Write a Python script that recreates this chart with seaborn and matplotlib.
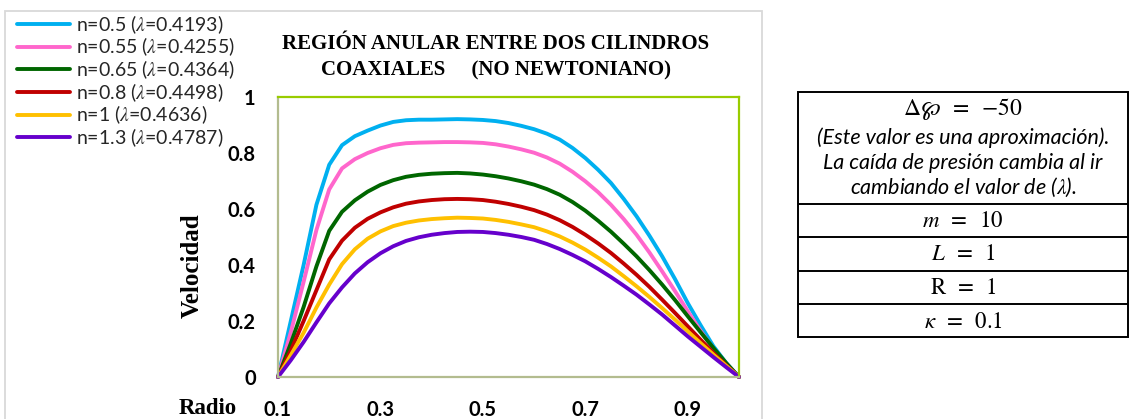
import matplotlib
matplotlib.use("Agg")
import matplotlib.pyplot as plt
import pandas as pd
import seaborn as sns
from matplotlib.patches import Rectangle
from matplotlib.lines import Line2D

# ---------------- data ----------------
radio = [0.100, 0.125, 0.150, 0.175, 0.200, 0.225, 0.250, 0.275, 0.300, 0.325,
         0.350, 0.375, 0.400, 0.425, 0.450, 0.475, 0.500, 0.525, 0.550, 0.575,
         0.600, 0.625, 0.650, 0.675, 0.700, 0.725, 0.750, 0.775, 0.800, 0.825,
         0.850, 0.875, 0.900, 0.925, 0.950, 0.975, 1.000]
v_n050 = [0, 0.20, 0.40, 0.615, 0.758, 0.828, 0.860, 0.880, 0.898, 0.911,
          0.917, 0.919, 0.919, 0.920, 0.921, 0.920, 0.918, 0.914, 0.907, 0.897,
          0.885, 0.869, 0.848, 0.818, 0.782, 0.740, 0.693, 0.636, 0.574, 0.505,
          0.431, 0.350, 0.264, 0.185, 0.110, 0.050, 0]
v_n055 = [0, 0.16, 0.34, 0.525, 0.670, 0.745, 0.778, 0.800, 0.817, 0.829,
          0.835, 0.837, 0.838, 0.839, 0.839, 0.838, 0.836, 0.831, 0.823, 0.813,
          0.801, 0.784, 0.762, 0.733, 0.699, 0.660, 0.615, 0.564, 0.508, 0.445,
          0.377, 0.307, 0.235, 0.165, 0.098, 0.045, 0]
v_n065 = [0, 0.12, 0.25, 0.395, 0.522, 0.590, 0.631, 0.662, 0.686, 0.703,
          0.715, 0.722, 0.726, 0.728, 0.729, 0.727, 0.723, 0.717, 0.709, 0.699,
          0.687, 0.671, 0.651, 0.625, 0.594, 0.558, 0.519, 0.476, 0.431, 0.382,
          0.330, 0.275, 0.217, 0.160, 0.104, 0.050, 0]
v_n080 = [0, 0.095, 0.20, 0.310, 0.420, 0.487, 0.533, 0.565, 0.588, 0.606,
          0.619, 0.627, 0.632, 0.635, 0.636, 0.635, 0.632, 0.626, 0.618, 0.608,
          0.596, 0.580, 0.560, 0.536, 0.508, 0.477, 0.443, 0.405, 0.365, 0.322,
          0.276, 0.229, 0.181, 0.133, 0.086, 0.042, 0]
v_n100 = [0, 0.078, 0.158, 0.248, 0.330, 0.403, 0.456, 0.494, 0.520, 0.539,
          0.551, 0.559, 0.564, 0.567, 0.569, 0.568, 0.566, 0.561, 0.554, 0.545,
          0.535, 0.520, 0.502, 0.480, 0.455, 0.426, 0.395, 0.360, 0.324, 0.286,
          0.246, 0.205, 0.163, 0.121, 0.080, 0.040, 0]
v_n130 = [0, 0.060, 0.125, 0.195, 0.263, 0.320, 0.370, 0.410, 0.442, 0.467,
          0.486, 0.499, 0.508, 0.514, 0.518, 0.519, 0.518, 0.514, 0.508, 0.500,
          0.490, 0.475, 0.457, 0.436, 0.413, 0.386, 0.357, 0.326, 0.294, 0.259,
          0.223, 0.184, 0.145, 0.108, 0.071, 0.035, 0]

series_labels = [r"n=0.5 ($\lambda$=0.4193)", r"n=0.55 ($\lambda$=0.4255)",
                 r"n=0.65 ($\lambda$=0.4364)", r"n=0.8 ($\lambda$=0.4498)",
                 r"n=1 ($\lambda$=0.4636)", r"n=1.3 ($\lambda$=0.4787)"]
series_values = [v_n050, v_n055, v_n065, v_n080, v_n100, v_n130]
colors = ["#00B0F0", "#FF66CC", "#006600", "#C00000", "#FFC000", "#6600CC"]

x_ticks = [0.1, 0.3, 0.5, 0.7, 0.9]
x_tick_labels = ["0.1", "0.3", "0.5", "0.7", "0.9"]
y_ticks = [0, 0.2, 0.4, 0.6, 0.8, 1.0]
y_tick_labels = ["0", "0.2", "0.4", "0.6", "0.8", "1"]

title = "REGIÓN ANULAR ENTRE DOS CILINDROS\nCOAXIALES     (NO NEWTONIANO)"
table_head = r"$\Delta\wp\;\;=\;\;{-}50$"
table_note = ["(Este valor es una aproximación).",
              "La caída de presión cambia al ir",
              r"cambiando el valor de ($\lambda$)."]
table_rows = [r"$m\;\;=\;\;10$", r"$L\;\;=\;\;1$",
              r"$\mathrm{R}\;\;=\;\;1$", r"$\kappa\;\;=\;\;0.1$"]

rows = []
for lab, vals in zip(series_labels, series_values):
    for r, v in zip(radio, vals):
        rows.append({"Radio": r, "Velocidad": v, "Serie": lab})
df = pd.DataFrame(rows)

# ---------------- style ----------------
sns.set_theme(style="white")
plt.rcParams["font.family"] = ["Lato", "DejaVu Sans"]
plt.rcParams["mathtext.fontset"] = "stix"

W, H = 1130, 419
fig = plt.figure(figsize=(W / 100, H / 100), dpi=100)
fig.patch.set_facecolor("white")

# chart area outline
fig.add_artist(Rectangle((5 / W, -0.05), (762 - 5) / W, 1 - 11 / H + 0.05,
                         transform=fig.transFigure, fill=False,
                         edgecolor="#D9D9D9", lw=1.3))

ax = fig.add_axes([278 / W, (H - 377) / H, 461 / W, 280 / H])
sns.lineplot(data=df, x="Radio", y="Velocidad", hue="Serie",
             hue_order=series_labels, palette=colors, linewidth=2.8,
             estimator=None, sort=False, ax=ax, legend=False)
for ln in ax.get_lines():
    ln.set_solid_capstyle("round")
    ln.set_solid_joinstyle("round")
    ln.set_clip_on(False)

ax.set_xlim(0.1, 1.0)
ax.set_ylim(0, 1.0)
ax.set_xticks(x_ticks)
ax.set_xticklabels(x_tick_labels)
ax.set_yticks(y_ticks)
ax.set_yticklabels(y_tick_labels)
ax.tick_params(axis="both", length=0, labelsize=14.5)
ax.tick_params(axis="x", pad=16.5)
ax.tick_params(axis="y", pad=16)
for lab in ax.get_xticklabels() + ax.get_yticklabels():
    lab.set_fontweight("bold")
    lab.set_color("black")
ax.grid(False)
for side in ["top", "right"]:
    ax.spines[side].set_color("#99CC00")
    ax.spines[side].set_linewidth(1.6)
for side in ["bottom", "left"]:
    ax.spines[side].set_color("#B3BC8F")
    ax.spines[side].set_linewidth(1.6)

ax.set_xlabel("Radio", family="Liberation Serif", fontweight="bold",
              fontsize=16.5, color="black")
ax.xaxis.set_label_coords((208 - 278) / 461, (377 - 408) / 280)
ax.xaxis.label.set_va("center")
ax.set_ylabel("Velocidad", family="Liberation Serif", fontweight="bold",
              fontsize=18, color="black")
ax.yaxis.set_label_coords((192 - 278) / 461, (377 - 266) / 280)
ax.yaxis.label.set_va("center")

fig.text(496 / W, 1 - 57 / H, title, ha="center", va="center",
         family="Liberation Serif", fontweight="bold", fontsize=15,
         linespacing=1.45, color="black")

handles = [Line2D([], [], color=c, lw=2.8) for c in colors]
fig.legend(handles, series_labels, loc="upper left",
           bbox_to_anchor=(17 / W, 1 - 13 / H), frameon=False,
           fontsize=14, handlelength=2.75, handletextpad=0.28,
           labelspacing=0.0, borderpad=0, borderaxespad=0)

# parameter table
tx = fig.add_axes([798 / W, (H - 337) / H, (1128 - 798) / W, (337 - 92) / H])
tx.set_xlim(0, 1)
tx.set_ylim(337, 92)
tx.axis("off")
tx.add_patch(Rectangle((0, 92), 1, 245, fill=False, edgecolor="black",
                       lw=1.4, clip_on=False))
for yy in [204, 237, 271, 304]:
    tx.plot([0, 1], [yy, yy], color="black", lw=1.4)
tx.text(0.5, 109, table_head, ha="center", va="center", fontsize=17, color="black")
for yy, s in zip([138, 163, 187], table_note):
    tx.text(0.5, yy, s, ha="center", va="center", fontsize=15.5,
            style="italic", color="black")
for yy, s in zip([220.5, 254, 288, 321], table_rows):
    tx.text(0.5, yy, s, ha="center", va="center", fontsize=16.5, color="black")

fig.savefig("out.png", dpi=100, facecolor="white")
